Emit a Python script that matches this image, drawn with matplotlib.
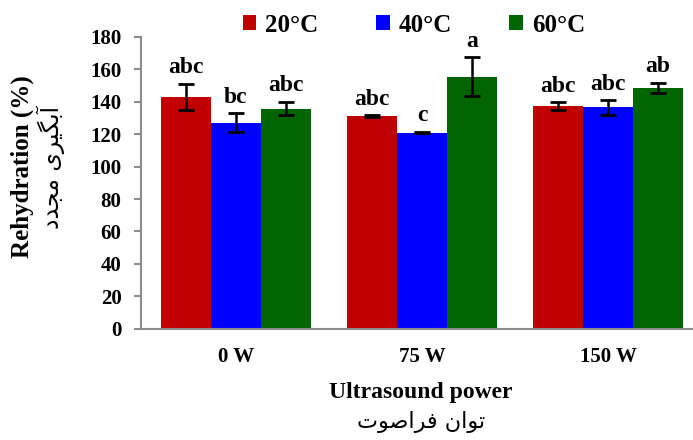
import matplotlib.pyplot as plt
import numpy as np

# data
groups = ['0 W', '75 W', '150 W']
temps = ['20°C', '40°C', '60°C']
means_20 = [143.0, 131.0, 137.5]
means_40 = [127.0, 121.0, 136.5]
means_60 = [135.8, 155.5, 148.5]
err_20 = [8.2, 0.6, 2.3]
err_40 = [5.9, 0.5, 4.5]
err_60 = [4.1, 12.0, 3.3]
letters_20 = ['abc', 'abc', 'abc']
letters_40 = ['bc', 'c', 'abc']
letters_60 = ['abc', 'a', 'ab']
colors = ['#C00000', '#0000FF', '#006400']

ylabel_en = 'Rehydration (%)'
# Persian text given in visual order with presentation forms (no shaping in matplotlib)
ylabel_fa = '\uFEA9\uFEAA\uFEA0\uFEE3 \uFBFC\uFEAE\uFBFF\uFB95\uFE91\uFE81'
xlabel_en = 'Ultrasound power'
xlabel_fa = '\uFE95\uFEEE\uFEBB\uFE8D\uFEAE\uFED3 \uFEE5\uFE8D\uFEEE\uFE97'

serif = ['Liberation Serif', 'DejaVu Serif']
axis_gray = '#8c8c8c'

fig = plt.figure(figsize=(6.93, 4.40), dpi=100)
ax = fig.add_axes([0.2035, 0.253, 0.7965, 0.663])

x = np.arange(len(groups))
w = 0.27
series = [(means_20, err_20, letters_20), (means_40, err_40, letters_40),
          (means_60, err_60, letters_60)]
for i, (m, e, lab) in enumerate(series):
    pos = x + (i - 1) * w
    ax.bar(pos, m, w, color=colors[i], label=temps[i], zorder=2,
           yerr=e, error_kw=dict(ecolor='black', elinewidth=1.8, capsize=5.5, capthick=2))
    for px, v, ev, t in zip(pos, m, e, lab):
        ax.annotate(t, (px, v + ev), xytext=(0, 4), textcoords='offset points',
                    ha='center', va='bottom', fontsize=17, fontweight='bold',
                    family=serif)

ax.set_xlim(-0.51, 2.457)
ax.set_ylim(0, 180)
ax.set_yticks(np.arange(0, 181, 20))
ax.set_xticks(x)
ax.set_xticklabels(groups)
for lbl in ax.get_xticklabels() + ax.get_yticklabels():
    lbl.set_family(serif)
    lbl.set_fontweight('bold')
    lbl.set_fontsize(15)
ax.tick_params(axis='x', length=0, pad=13)
ax.tick_params(axis='y', length=5, width=1.5, color=axis_gray, pad=9)
ax.spines['top'].set_visible(False)
ax.spines['right'].set_visible(False)
for s in ['left', 'bottom']:
    ax.spines[s].set_linewidth(1.5)
    ax.spines[s].set_color(axis_gray)

fig.text(0.032, 0.622, ylabel_en, rotation=90, ha='center', va='center',
         fontsize=18, fontweight='bold', family=serif)
fig.text(0.073, 0.62, ylabel_fa, rotation=90, ha='center', va='center',
         fontsize=17, family='DejaVu Sans')
fig.text(0.607, 0.107, xlabel_en, ha='center', va='center',
         fontsize=17, fontweight='bold', family=serif)
fig.text(0.607, 0.04, xlabel_fa, ha='center', va='center',
         fontsize=16, family='DejaVu Sans')

fig.legend(loc='center', bbox_to_anchor=(0.597, 0.943), ncol=3, frameon=False,
           prop=dict(family=serif, weight='bold', size=18),
           handlelength=0.55, handleheight=0.55, handletextpad=0.35, columnspacing=2.3)

fig.savefig('out.png', dpi=100)
